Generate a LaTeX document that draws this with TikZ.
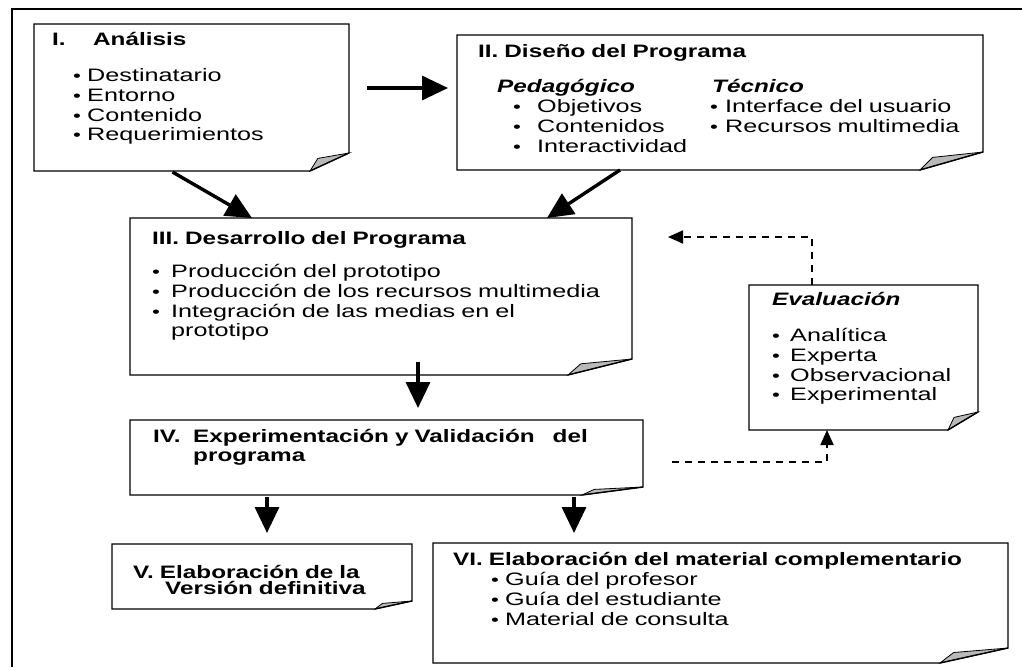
\documentclass[tikz,border=0pt]{standalone}
\usepackage{fontspec}
\setmainfont{Liberation Sans}[FakeStretch=1.40, BoldFeatures={FakeStretch=1.35}, BoldItalicFeatures={FakeStretch=1.35}]
\usepackage{tikz}
\usetikzlibrary{arrows.meta,calc}

% hoja con la esquina doblada
\newcommand{\doblez}[3]{%
  \filldraw[pliegue] ([xshift=-#2]#1.south east) -- ([xshift=-0.8*#2,yshift=0.7*#3]#1.south east) -- ([yshift=#3]#1.south east) -- cycle;
  \draw[borde] (#1.north west) -- (#1.north east) -- ([yshift=#3]#1.south east)
    -- ([xshift=-#2]#1.south east) -- (#1.south west) -- cycle;
}
\newcommand{\pto}[1][10pt]{\makebox[#1][l]{\fontsize{16}{16}\selectfont\textbullet}}

\tikzset{
  hoja/.style={anchor=north west, inner sep=0pt, outer sep=0pt},
  texto/.style={anchor=base west, inner sep=0pt, align=left, font=\fontsize{18}{19.7}\selectfont},
  borde/.style={line width=1.4pt, line join=miter},
  pliegue/.style={fill=gray!55, draw=black, line width=0.8pt},
  flecha/.style={line width=3.4pt, -{Triangle[length=26pt,width=24pt]}},
  discont/.style={line width=1.8pt, dash pattern=on 7pt off 6pt, -{Triangle[length=15pt,width=13pt]}},
}

\begin{document}
\begin{tikzpicture}[x=1pt,y=-1pt]
\useasboundingbox (0,0) rectangle (1022,667);
\fill[white] (0,0) rectangle (1022,667);
% marco
\draw[line width=2pt] (12,667) -- (12,9) -- (1022,9);

% I. Analisis
\node[hoja, minimum width=315pt, minimum height=147pt] (analisis) at (34,24) {};
\doblez{analisis}{39pt}{18pt}
\node[texto, text width=290pt] (analisis-t) at ($(analisis.north west)+(18,21)$) {%
  \textbf{\makebox[41pt][l]{I.}Análisis}\\[17pt]
  \hspace*{21pt}\pto[14pt]Destinatario\\
  \hspace*{21pt}\pto[14pt]Entorno\\
  \hspace*{21pt}\pto[14pt]Contenido\\
  \hspace*{21pt}\pto[14pt]Requerimientos};

% II. Diseno
\node[hoja, minimum width=526pt, minimum height=135pt] (diseno) at (457,35) {};
\doblez{diseno}{63pt}{18pt}
\node[texto, text width=480pt] (diseno-t) at ($(diseno.north west)+(21,22)$) {\textbf{II. Diseño del Programa}};
\node[texto, text width=200pt] (diseno-ped) at ($(diseno.north west)+(40,57)$) {%
  \textbf{\textit{Pedagógico}}\\[1pt]
  \hspace*{16pt}\pto[24pt]Objetivos\\
  \hspace*{16pt}\pto[24pt]Contenidos\\
  \hspace*{16pt}\pto[24pt]Interactividad};
\node[texto, text width=260pt] (diseno-tec) at ($(diseno.north west)+(255,57)$) {%
  \textbf{\textit{Técnico}}\\[1pt]
  \hspace*{-2pt}\pto[15pt]Interface del usuario\\
  \hspace*{-2pt}\pto[15pt]Recursos multimedia};

% III. Desarrollo
\node[hoja, minimum width=502pt, minimum height=157pt] (desarrollo) at (130,218) {};
\doblez{desarrollo}{64pt}{16pt}
\node[texto, text width=470pt] (desarrollo-t) at ($(desarrollo.north west)+(22,26)$) {%
  \textbf{III. Desarrollo del Programa}\\[14pt]
  \pto[19pt]Producción del prototipo\\
  \pto[19pt]Producción de los recursos multimedia\\
  \pto[19pt]Integración de las medias en el\\
  \hspace*{19pt}prototipo};

% Evaluacion
\node[hoja, minimum width=229pt, minimum height=145pt] (evaluacion) at (749,285) {};
\doblez{evaluacion}{30pt}{18pt}
\node[texto, text width=200pt] (evaluacion-t) at ($(evaluacion.north west)+(23,20)$) {%
  \textbf{\textit{Evaluación}}\\[17pt]
  \pto[18pt]Analítica\\
  \pto[18pt]Experta\\
  \pto[18pt]Observacional\\
  \pto[18pt]Experimental};

% IV. Experimentacion
\node[hoja, minimum width=513pt, minimum height=75pt] (experim) at (130,420) {};
\doblez{experim}{61pt}{8pt}
\node[texto, text width=480pt] (experim-t) at ($(experim.north west)+(23,22)$) {%
  {\bfseries\makebox[40pt][l]{IV.}Experimentación y Validación\hspace{18pt}del\\
  \hspace*{40pt}programa}};

% V. Version definitiva
\node[hoja, minimum width=300pt, minimum height=65pt] (version) at (112,544) {};
\doblez{version}{37pt}{8pt}
\node[texto, text width=270pt] (version-t) at ($(version.north west)+(21,34)$) {%
  {\bfseries V. Elaboración de la\\[-3pt]
  \hspace*{32pt}Versión definitiva}};

% VI. Material complementario
\node[hoja, minimum width=575pt, minimum height=120pt] (material) at (433,543) {};
\doblez{material}{68pt}{15pt}
\node[texto, text width=560pt] (material-t) at ($(material.north west)+(20,22)$) {%
  \textbf{VI. Elaboración del material complementario}\\[1pt]
  \hspace*{38pt}\pto[14pt]Guía del profesor\\
  \hspace*{38pt}\pto[14pt]Guía del estudiante\\
  \hspace*{38pt}\pto[14pt]Material de consulta};

% flechas
\draw[flecha] ($(analisis.east)+(18,-9.5)$) -- ($(diseno.west)+(-9,-14.5)$);
\draw[flecha] ($(analisis.south)+(-19,1)$) -- ($(desarrollo.north west)+(122,0)$);
\draw[flecha] ($(diseno.south west)+(163,0)$) -- ($(desarrollo.north west)+(417,0)$);
\draw[flecha] ($(desarrollo.south)+(37,-13)$) -- ($(experim.north)+(31.5,-12)$);
\draw[flecha] ($(experim.south west)+(137,2)$) -- ($(version.north)+(5,-11)$);
\draw[flecha] ($(experim.south west)+(444,2)$) -- ($(material.north west)+(141,-10)$);

% retroalimentacion
\coordinate (retorno) at ($(desarrollo.north east)+(36,19)$);
\coordinate (salida) at ($(experim.east)+(29,4.5)$);
\draw[discont] ($(evaluacion.north west)+(63,0)$) |- (retorno);
\draw[discont] (salida) -| ($(evaluacion.south west)+(78,0)$);
\end{tikzpicture}
\end{document}
